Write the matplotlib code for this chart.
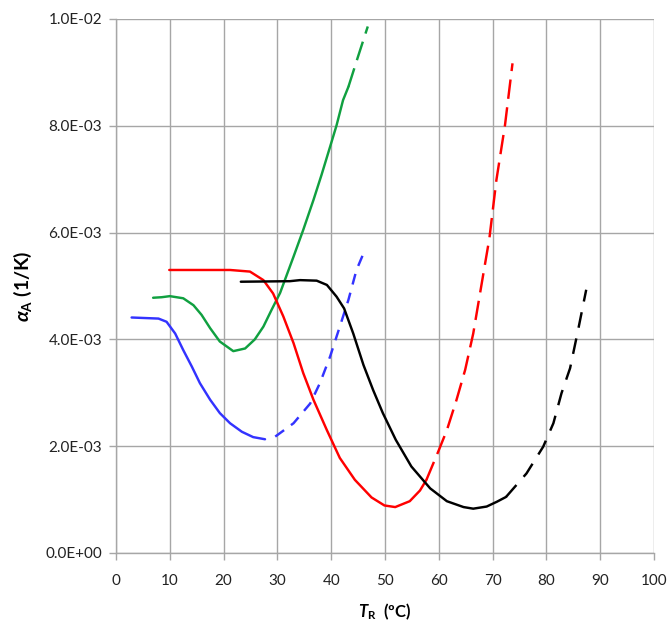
import matplotlib
matplotlib.use("Agg")
import matplotlib.pyplot as plt
from matplotlib.ticker import FuncFormatter, MultipleLocator

plt.rcParams['font.family'] = ['Lato', 'DejaVu Sans']
plt.rcParams['mathtext.fontset'] = 'custom'
plt.rcParams['mathtext.it'] = 'Lato:italic:bold'
plt.rcParams['mathtext.bf'] = 'Lato:bold'
plt.rcParams['mathtext.rm'] = 'Lato:bold'

# Blue series (solid, then dashed)
blue_T = [2.9, 7.9, 9.4, 11.0, 12.5, 14.1, 15.6, 17.5, 19.3, 21.2, 23.4, 25.5, 27.7]
blue_a = [4.41e-3, 4.39e-3, 4.33e-3, 4.11e-3, 3.80e-3, 3.49e-3, 3.18e-3, 2.87e-3, 2.62e-3,
          2.43e-3, 2.27e-3, 2.17e-3, 2.13e-3]
blue_T_d = [29.6, 33.0, 36.1, 37.9, 39.8, 41.6, 43.2, 44.7, 46.0]
blue_a_d = [2.18e-3, 2.43e-3, 2.80e-3, 3.18e-3, 3.68e-3, 4.24e-3, 4.74e-3, 5.30e-3, 5.61e-3]

# Green series
green_T = [6.9, 8.5, 10.0, 12.5, 14.4, 15.9, 17.5, 19.3, 21.8, 24.0, 25.8, 27.4, 28.9, 30.5,
           33.0, 34.8, 36.7, 38.2, 39.8, 41.0, 42.2, 43.2]
green_a = [4.78e-3, 4.79e-3, 4.81e-3, 4.77e-3, 4.64e-3, 4.46e-3, 4.21e-3, 3.96e-3, 3.78e-3,
           3.83e-3, 4.00e-3, 4.24e-3, 4.55e-3, 4.87e-3, 5.55e-3, 6.05e-3, 6.61e-3, 7.08e-3,
           7.61e-3, 8.01e-3, 8.48e-3, 8.73e-3]
green_T_d = [43.2, 45.0, 46.8]
green_a_d = [8.73e-3, 9.30e-3, 9.86e-3]

# Red series
red_T = [9.9, 21.2, 24.9, 27.4, 29.2, 31.1, 33.0, 34.8, 36.7, 39.2, 41.6, 44.4, 47.5,
         49.9, 51.9, 54.6, 56.5, 57.7]
red_a = [5.30e-3, 5.30e-3, 5.27e-3, 5.11e-3, 4.86e-3, 4.43e-3, 3.93e-3, 3.37e-3, 2.87e-3,
         2.30e-3, 1.78e-3, 1.37e-3, 1.04e-3, 0.89e-3, 0.86e-3, 0.97e-3, 1.17e-3, 1.37e-3]
red_T_d = [57.7, 59.9, 61.5, 63.3, 64.9, 66.4, 68.3, 69.4, 70.7, 72.3, 73.7]
red_a_d = [1.37e-3, 1.90e-3, 2.30e-3, 2.87e-3, 3.43e-3, 4.11e-3, 5.24e-3, 5.89e-3, 6.98e-3,
           8.01e-3, 9.17e-3]

# Black series
black_T = [23.2, 32.3, 34.2, 37.3, 39.2, 41.0, 42.4, 44.1, 46.0, 47.8, 49.6, 52.0, 54.9,
           58.4, 61.5, 64.6, 66.4, 68.9, 70.8, 72.5]
black_a = [5.08e-3, 5.09e-3, 5.11e-3, 5.10e-3, 5.02e-3, 4.80e-3, 4.58e-3, 4.11e-3, 3.52e-3,
           3.05e-3, 2.62e-3, 2.12e-3, 1.62e-3, 1.21e-3, 0.97e-3, 0.86e-3, 0.83e-3, 0.87e-3,
           0.96e-3, 1.05e-3]
black_T_d = [72.5, 76.3, 79.4, 81.3, 82.8, 84.4, 85.9, 87.4]
black_a_d = [1.05e-3, 1.49e-3, 1.99e-3, 2.43e-3, 2.99e-3, 3.46e-3, 4.18e-3, 4.93e-3]

fig = plt.figure(figsize=(6.69, 6.24), dpi=100)
ax = fig.add_axes([116/669, 1-553/624, (654-116)/669, (553-19)/624])

lw = 1.75
ax.plot(blue_T, blue_a, color='#3333ff', lw=lw, solid_capstyle='round', solid_joinstyle='round')
ax.plot(blue_T_d, blue_a_d, color='#3333ff', lw=lw, dashes=(4.5, 3.5))
ax.plot(green_T, green_a, color='#10a040', lw=lw, solid_capstyle='round', solid_joinstyle='round')
ax.plot(green_T_d, green_a_d, color='#10a040', lw=lw, dashes=(8, 3.5))
ax.plot(red_T, red_a, color='#ff0000', lw=lw, solid_capstyle='round', solid_joinstyle='round')
ax.plot(red_T_d, red_a_d, color='#ff0000', lw=lw, dashes=(8, 3.5))
ax.plot(black_T, black_a, color='black', lw=lw, solid_capstyle='round', solid_joinstyle='round')
ax.plot(black_T_d, black_a_d, color='black', lw=lw, dashes=(6.5, 4.5))

ax.set_xlim(0, 100)
ax.set_ylim(0, 0.01)
ax.xaxis.set_major_locator(MultipleLocator(10))
ax.yaxis.set_major_locator(MultipleLocator(0.002))
ax.yaxis.set_major_formatter(FuncFormatter(lambda v, p: f"{v:.1E}"))
ax.grid(True, color='#a6a6a6', lw=1.0)
ax.set_axisbelow(True)
for s in ['top', 'right']:
    ax.spines[s].set_visible(False)
for s in ['left', 'bottom']:
    ax.spines[s].set_color('#a6a6a6')
    ax.spines[s].set_linewidth(1.0)
ax.tick_params(axis='both', colors='#a6a6a6', labelcolor='#222222', labelsize=11, length=5, width=1.0)
ax.tick_params(axis='x', pad=10)
ax.tick_params(axis='y', pad=5)

ax.set_xlabel(r'$T_{\mathbf{R}}$  (ºC)', fontsize=12, fontweight='bold', labelpad=10)
ax.set_ylabel(r'$\alpha_{\mathbf{A}}$ (1/K)', fontsize=14, fontweight='bold', labelpad=8)

fig.savefig('out.png', dpi=100)
